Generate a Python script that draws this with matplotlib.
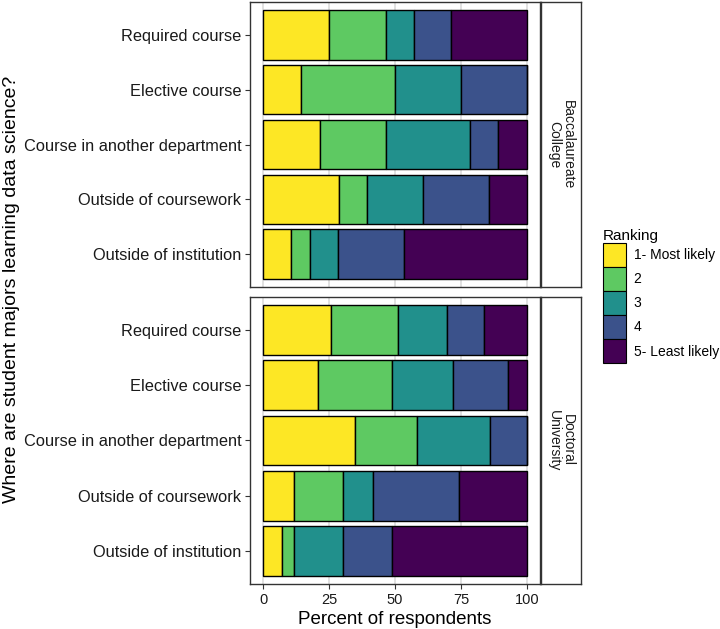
import matplotlib
matplotlib.use("Agg")
import matplotlib.pyplot as plt
from matplotlib.patches import Patch

plt.rcParams["font.family"] = ["Liberation Sans", "DejaVu Sans"]

# categories, top to bottom
categories = ["Required course", "Elective course", "Course in another department",
              "Outside of coursework", "Outside of institution"]
rank_labels = ["1- Most likely", "2", "3", "4", "5- Least likely"]
facet_labels = ["Baccalaureate\nCollege", "Doctoral\nUniversity"]

# percent of respondents, one row per rank, one column per category
bacc_pct = [
    [25.0, 14.3, 21.4, 28.6, 10.7],
    [21.4, 35.7, 25.0, 10.7, 7.1],
    [10.7, 25.0, 32.1, 21.4, 10.7],
    [14.3, 25.0, 10.7, 25.0, 25.0],
    [28.6, 0.0, 10.7, 14.3, 46.4],
]
doct_pct = [
    [25.6, 20.9, 34.9, 11.6, 7.0],
    [25.6, 27.9, 23.3, 18.6, 4.7],
    [18.6, 23.3, 27.9, 11.6, 18.6],
    [14.0, 20.9, 14.0, 32.6, 18.6],
    [16.3, 7.0, 0.0, 25.6, 51.2],
]
x_ticks = [0, 25, 50, 75, 100]

colors = ["#FDE725", "#5EC962", "#21908C", "#3B528B", "#440154"]
border = "#333333"

W, H = 720, 629
fig = plt.figure(figsize=(W / 100, H / 100), dpi=100)


def px_box(x0, y0, x1, y1):
    return [x0 / W, (H - y1) / H, (x1 - x0) / W, (y1 - y0) / H]


panels = [(2, 287), (297, 584)]
ypos = list(range(1, len(categories) + 1))

for i, (data, (top, bot)) in enumerate(zip([bacc_pct, doct_pct], panels)):
    ax = fig.add_axes(px_box(250, top, 540, bot))
    left = [0.0] * len(categories)
    for r, vals in enumerate(data):
        ax.barh(ypos, vals, left=left, height=0.9, color=colors[r],
                edgecolor="black", linewidth=1.0, zorder=3)
        left = [a + b for a, b in zip(left, vals)]
    ax.set_xlim(-5, 105)
    ax.set_ylim(5.6, 0.4)
    ax.set_yticks(ypos)
    ax.set_yticklabels(categories)
    ax.set_xticks(x_ticks)
    for x in x_ticks:
        ax.axvline(x, color="#D9D9D9", linewidth=1.1, zorder=0)
    ax.tick_params(axis="y", labelsize=11.8, length=3.8, width=0.8, color=border,
                   labelcolor="#1a1a1a", pad=2.5)
    ax.tick_params(axis="x", labelsize=10.5, length=3.8, width=0.8, color=border,
                   labelcolor="#1a1a1a", pad=3)
    if i == 0:
        ax.tick_params(axis="x", bottom=False, labelbottom=False)
    for s in ax.spines.values():
        s.set_color(border)
        s.set_linewidth(1.0)

    strip = fig.add_axes(px_box(541, top, 581, bot))
    strip.set_xticks([])
    strip.set_yticks([])
    for s in strip.spines.values():
        s.set_color(border)
        s.set_linewidth(1.0)
    strip.text(0.5, 0.5, facet_labels[i], rotation=-90, ha="center", va="center",
               fontsize=10, color="#1a1a1a", linespacing=0.95,
               transform=strip.transAxes)

fig.text(395 / W, 1 - 619 / H, "Percent of respondents", ha="center", va="center",
         fontsize=13.5, color="black")
fig.text(12 / W, 1 - 289 / H, "Where are student majors learning data science?",
         rotation=90, ha="center", va="center", fontsize=14, color="black")

handles = [Patch(facecolor=c, edgecolor="black", linewidth=0.8) for c in colors]
leg = fig.legend(handles, rank_labels, title="Ranking", loc="center left",
                 bbox_to_anchor=(603 / W, 1 - 296 / H), frameon=False,
                 fontsize=10, title_fontsize=11, handlelength=1.65,
                 handleheight=2.3, labelspacing=0.0, handletextpad=0.55,
                 borderpad=0, borderaxespad=0)
leg._legend_box.align = "left"

fig.savefig("out.png", dpi=100)
